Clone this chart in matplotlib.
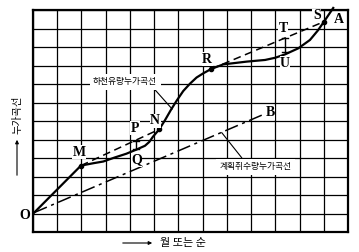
import matplotlib
matplotlib.use('Agg')
import matplotlib.pyplot as plt
import numpy as np

# river inflow mass curve (grid units)
river_x = [0.05, 1.98, 2.50, 2.90, 3.38, 3.85, 4.24, 4.62, 4.80, 4.95, 5.21, 5.45, 5.70, 5.93,
           6.20, 6.48, 6.75, 7.03, 7.35, 7.85, 8.82, 9.58, 10.00, 10.40, 10.95, 11.43, 11.76,
           12.01, 12.39]
river_y = [1.05, 3.59, 3.72, 3.81, 4.03, 4.23, 4.44, 4.66, 4.87, 5.15, 5.55, 6.05, 6.62, 7.10,
           7.62, 8.02, 8.35, 8.58, 8.81, 9.06, 9.21, 9.30, 9.42, 9.60, 9.93, 10.38, 10.90,
           11.37, 12.11]

# tangent lines M-N and R-S
tan1_x = [1.98, 5.21]
tan1_y = [3.59, 5.55]
tan2_x = [7.35, 12.01]
tan2_y = [8.81, 11.37]

# planned withdrawal mass curve O-B
draw_x = [0.05, 9.45]
draw_y = [1.05, 6.32]

# deficit bars (x, top, bottom)
bars = [(4.24, 4.94, 4.50), (10.40, 10.48, 9.75)]

points = {'M': (1.98, 3.59), 'N': (5.21, 5.55), 'R': (7.35, 8.81), 'S': (12.01, 11.37)}
letters = {'O': (-0.33, 0.90), 'M': (1.91, 4.32), 'P': (4.21, 5.60), 'N': (5.04, 6.02),
           'Q': (4.28, 3.89), 'R': (7.19, 9.34), 'T': (10.33, 11.01), 'U': (10.40, 9.12),
           'S': (11.71, 11.68), 'A': (12.64, 11.50), 'B': (9.78, 6.45)}

fig = plt.figure(figsize=(3.59, 2.52), dpi=100)
ax = fig.add_axes([33/359, 20/252, 315/359, 222/252])
ax.set_xlim(0, 13)
ax.set_ylim(0, 12)
ax.set_xticks(range(14))
ax.set_yticks(range(13))
ax.tick_params(length=0, labelbottom=False, labelleft=False)
ax.grid(True, color='black', lw=0.9)
ax.set_axisbelow(True)
for s in ax.spines.values():
    s.set_linewidth(1.6)

ax.plot(river_x, river_y, color='black', lw=1.6, clip_on=False, zorder=3)
ax.plot(tan1_x, tan1_y, color='black', lw=1.1, ls=(0, (5, 3)), zorder=3)
ax.plot(tan2_x, tan2_y, color='black', lw=1.1, ls=(0, (5, 3)), zorder=3)
ax.plot(draw_x, draw_y, color='black', lw=1.1, ls=(0, (9, 3, 2, 3)), zorder=3)
for k, (px, py) in points.items():
    ax.plot(px, py, 'o', color='black', ms=3, zorder=4)

for bx, top, bot in bars:
    ax.plot([bx, bx], [bot, top], color='black', lw=1, zorder=3)
    ax.plot([bx - 0.12, bx + 0.12], [top, top], color='black', lw=1, zorder=3)
    ax.plot([bx - 0.12, bx + 0.12], [bot, bot], color='black', lw=1, zorder=3)

for name, (lx, ly) in letters.items():
    ax.text(lx, ly, name, family='Liberation Serif', weight='bold', fontsize=10,
            ha='center', va='center', zorder=5, clip_on=False,
            bbox=dict(facecolor='white', edgecolor='none', pad=0.3))

kfont = ['Noto Sans CJK KR', 'DejaVu Sans']
ax.text(3.80, 8.11, '하천유량누가곡선', family=kfont, fontsize=6.3, ha='center', va='center',
        zorder=5, bbox=dict(facecolor='white', edgecolor='none', pad=2.5))
ax.plot([5.04, 5.74], [7.68, 6.65], color='black', lw=0.8, zorder=4)
ax.text(9.20, 3.53, '계획취수량누가곡선', family=kfont, fontsize=6.3, ha='center', va='center',
        zorder=5, bbox=dict(facecolor='white', edgecolor='none', pad=2.5))
ax.plot([8.61, 7.79], [4.02, 5.37], color='black', lw=0.8, zorder=4)

# axis captions with arrows
fig.text(17/359, 1 - 115/252, '누가곡선', family=kfont, fontsize=7.5, rotation=90,
         ha='center', va='center')
fig.add_artist(matplotlib.patches.FancyArrowPatch((17/359, 1 - 178/252), (17/359, 1 - 137/252),
               transform=fig.transFigure, arrowstyle='-|>', mutation_scale=5, lw=0.8, color='black'))
fig.text(160/359, 1 - 243/252, '월 또는 순', family=kfont, fontsize=8, ha='left', va='center')
fig.add_artist(matplotlib.patches.FancyArrowPatch((120/359, 1 - 243/252), (155/359, 1 - 243/252),
               transform=fig.transFigure, arrowstyle='-|>', mutation_scale=5, lw=0.8, color='black'))

fig.savefig('out.png', dpi=100)
